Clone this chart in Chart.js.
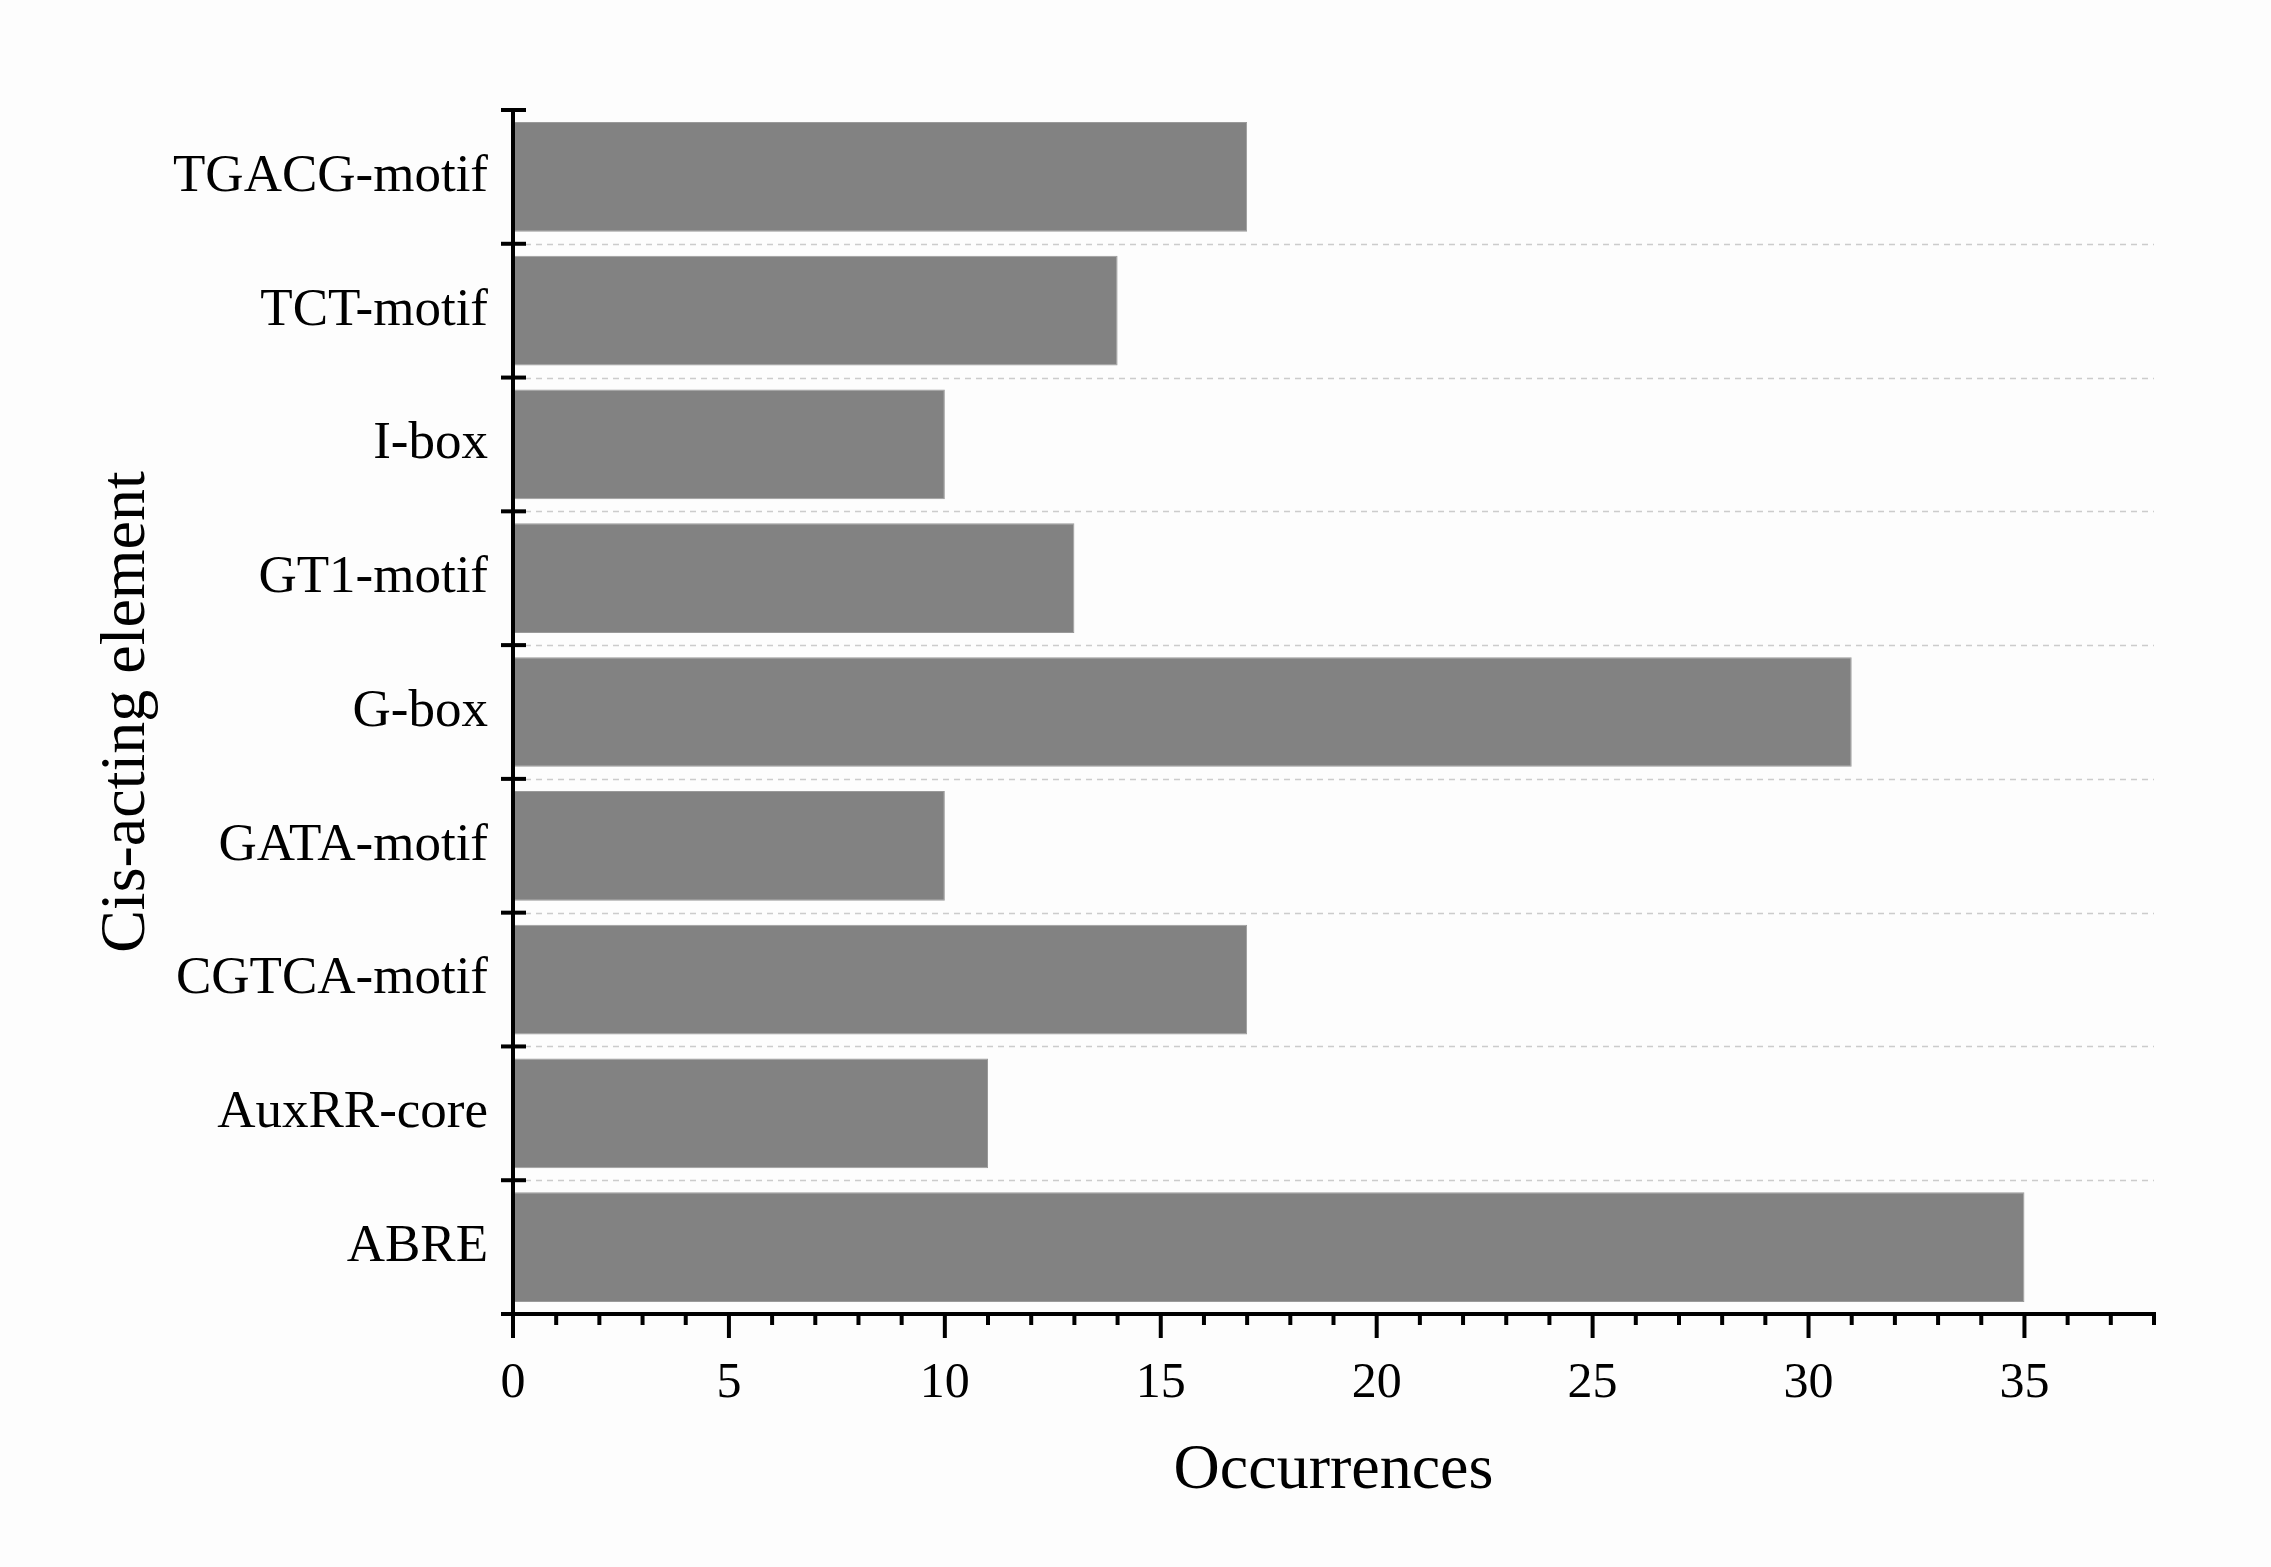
<!DOCTYPE html>
<html>
<head>
<meta charset="utf-8">
<script src="https://cdn.jsdelivr.net/npm/chart.js@4/dist/chart.umd.min.js"></script>
<style>
  body { margin: 0; background: #fdfdfd; }
  #wrap { width: 2271px; height: 1567px; }
</style>
</head>
<body>
<div id="wrap"><canvas id="elementChart" width="2271" height="1567"></canvas></div>
<script>
// Cis-acting elements, top to bottom
const elements = ['TGACG-motif', 'TCT-motif', 'I-box', 'GT1-motif', 'G-box',
                  'GATA-motif', 'CGTCA-motif', 'AuxRR-core', 'ABRE'];
const occurrences = [17, 14, 10, 13, 31, 10, 17, 11, 35];
const xTicks = [0, 5, 10, 15, 20, 25, 30, 35];
const xMax = 38;

const serif = '"Liberation Serif", "Times New Roman", serif';

// axis lines, tick marks and dashed separators drawn on top of the scales
const axisDecor = {
    id: 'axisDecor',
    beforeDatasetsDraw(chart) {
        const { ctx, chartArea, scales } = chart;
        const y = scales.y;
        ctx.save();
        ctx.strokeStyle = '#cccccc';
        ctx.lineWidth = 1.5;
        ctx.setLineDash([6, 5]);
        for (let i = 1; i < elements.length; i++) {
            const py = Math.round((y.getPixelForValue(i - 1) + y.getPixelForValue(i)) / 2) + 0.5;
            ctx.beginPath();
            ctx.moveTo(chartArea.left + 12, py);
            ctx.lineTo(chartArea.right, py);
            ctx.stroke();
        }
        ctx.restore();
    },
    afterDraw(chart) {
        const { ctx, chartArea, scales } = chart;
        const x = scales.x, y = scales.y;
        ctx.save();
        ctx.strokeStyle = '#000';
        ctx.lineWidth = 4;
        ctx.lineCap = 'butt';

        // y axis line
        ctx.beginPath();
        ctx.moveTo(chartArea.left, chartArea.top - 2);
        ctx.lineTo(chartArea.left, chartArea.bottom + 2);
        ctx.stroke();

        // x axis line
        ctx.beginPath();
        ctx.moveTo(chartArea.left - 12, chartArea.bottom);
        ctx.lineTo(chartArea.right + 2, chartArea.bottom);
        ctx.stroke();

        // y ticks at category boundaries
        const bounds = [chartArea.top];
        for (let i = 1; i < elements.length; i++) {
            bounds.push((y.getPixelForValue(i - 1) + y.getPixelForValue(i)) / 2);
        }
        bounds.forEach(py => {
            ctx.beginPath();
            ctx.moveTo(chartArea.left - 12, py);
            ctx.lineTo(chartArea.left + 13, py);
            ctx.stroke();
        });

        // x ticks: major every 5, minor every 1
        for (let v = 0; v <= xMax; v++) {
            const px = x.getPixelForValue(v);
            const len = v % 5 === 0 ? 24 : 11;
            ctx.beginPath();
            ctx.moveTo(px, chartArea.bottom);
            ctx.lineTo(px, chartArea.bottom + len);
            ctx.stroke();
        }
        ctx.restore();
    }
};

const ctx = document.getElementById('elementChart').getContext('2d');
const elementChart = new Chart(ctx, {
    type: 'bar',
    data: {
        labels: elements,
        datasets: [{
            data: occurrences,
            backgroundColor: '#828282',
            borderColor: '#9a9a9a',
            borderWidth: 1,
            barPercentage: 0.82,
            categoryPercentage: 1
        }]
    },
    options: {
        indexAxis: 'y',
        responsive: false,
        animation: false,
        layout: {
            padding: { top: 110, right: 117, bottom: 0, left: 0 }
        },
        plugins: {
            legend: { display: false },
            tooltip: { enabled: false }
        },
        scales: {
            x: {
                type: 'linear',
                min: 0,
                max: xMax,
                afterBuildTicks: axis => {
                    axis.ticks = xTicks.map(v => ({ value: v }));
                },
                afterFit: axis => { axis.height = 253; },
                grid: { display: false, drawTicks: false },
                border: { display: false },
                ticks: {
                    color: '#000',
                    padding: 40,
                    font: { family: serif, size: 50 }
                },
                title: {
                    display: true,
                    text: 'Occurrences',
                    color: '#000',
                    font: { family: serif, size: 64 },
                    padding: { top: 0, bottom: 57 }
                }
            },
            y: {
                afterFit: axis => { axis.width = 513; },
                grid: { display: false, drawTicks: false },
                border: { display: false },
                ticks: {
                    color: '#000',
                    padding: 25,
                    font: { family: serif, size: 53 }
                },
                title: {
                    display: true,
                    text: 'Cis-acting element',
                    color: '#000',
                    font: { family: serif, size: 64 },
                    padding: { top: 89, bottom: 0 }
                }
            }
        }
    },
    plugins: [axisDecor]
});
</script>
</body>
</html>
